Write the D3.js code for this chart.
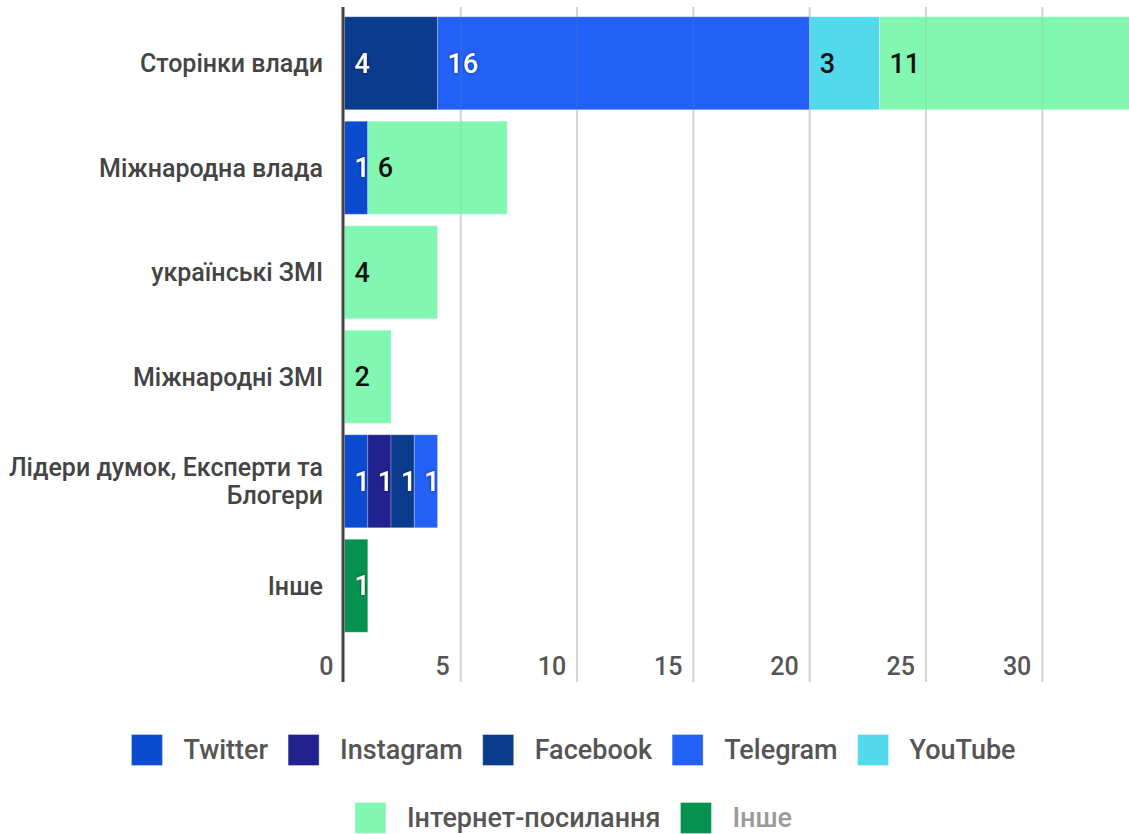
<!DOCTYPE html>
<html>
<head>
<meta charset="utf-8">
<script src="https://cdn.jsdelivr.net/npm/d3@7"></script>
<style>
  html, body { margin: 0; padding: 0; background: #fff; }
  svg { display: block; font-family: Roboto, "Noto Sans", sans-serif; }
</style>
</head>
<body>
<svg id="chart" width="1129" height="834"></svg>
<script>
// Source categories (rows), top to bottom
const categories = [
  "Сторінки влади",
  "Міжнародна влада",
  "українські ЗМІ",
  "Міжнародні ЗМІ",
  "Лідери думок, Експерти та Блогери",
  "Інше"
];

// Channel series, in stacking order
const seriesNames = ["Twitter", "Instagram", "Facebook", "Telegram", "YouTube", "Інтернет-посилання", "Інше"];

// Values per series, one entry per category
const twitter   = [0, 1, 0, 0, 1, 0];
const instagram = [0, 0, 0, 0, 1, 0];
const facebook  = [4, 0, 0, 0, 1, 0];
const telegram  = [16, 0, 0, 0, 1, 0];
const youtube   = [3, 0, 0, 0, 0, 0];
const internet  = [11, 6, 4, 2, 0, 0];
const other     = [0, 0, 0, 0, 0, 1];

const xTicks = [0, 5, 10, 15, 20, 25, 30];

const seriesValues = [twitter, instagram, facebook, telegram, youtube, internet, other];
const colors = ["#0a4bd0", "#22228f", "#0b3b8c", "#2360f5", "#52d9ec", "#82f7b1", "#07914f"];
const darkText = [false, false, false, false, true, true, false];

const svg = d3.select("#chart");

const defs = svg.append("defs");
const glow = defs.append("filter").attr("id", "glow")
  .attr("x", "-30%").attr("y", "-30%").attr("width", "160%").attr("height", "160%");
glow.append("feDropShadow").attr("dx", 0).attr("dy", 0)
  .attr("stdDeviation", 1.6).attr("flood-color", "#000").attr("flood-opacity", 0.55);

// Row table built from the series arrays
const rows = categories.map((c, i) => {
  const r = { category: c };
  seriesNames.forEach((s, k) => { r[s] = seriesValues[k][i]; });
  return r;
});
const stacked = d3.stack().keys(seriesNames)(rows);

const x = d3.scaleLinear().domain([0, 35]).range([344.5, 344.5 + 35 * 23.26]);
const y = d3.scaleBand().domain(categories).range([11, 638])
  .paddingInner(0.11).paddingOuter(0.055);

const gridTop = 7, gridBottom = 682;
const gridValues = [5, 10, 15, 20, 25, 30, 35];

// Vertical gridlines beneath the bars
svg.append("g").selectAll("line")
  .data(gridValues)
  .join("line")
  .attr("x1", d => x(d)).attr("x2", d => x(d))
  .attr("y1", gridTop).attr("y2", gridBottom)
  .attr("stroke", "#dcdcdc").attr("stroke-width", 2);

// Stacked bars
const layers = svg.append("g").selectAll("g")
  .data(stacked)
  .join("g")
  .attr("fill", (d, i) => colors[i]);

layers.selectAll("rect")
  .data(d => d.filter(s => s[1] - s[0] > 0))
  .join("rect")
  .attr("x", d => x(d[0]))
  .attr("y", d => y(d.data.category))
  .attr("width", d => x(d[1]) - x(d[0]))
  .attr("height", y.bandwidth())
  .attr("stroke", "rgba(255,255,255,0.25)")
  .attr("stroke-width", 1);

// Faint gridlines showing through the bars
svg.append("g").selectAll("line")
  .data(gridValues)
  .join("line")
  .attr("x1", d => x(d)).attr("x2", d => x(d))
  .attr("y1", gridTop).attr("y2", gridBottom)
  .attr("stroke", "rgba(150,150,150,0.12)").attr("stroke-width", 2);

// Value labels inside segments
stacked.forEach((layer, i) => {
  const g = svg.append("g");
  g.selectAll("text")
    .data(layer.filter(s => s[1] - s[0] > 0))
    .join("text")
    .attr("x", d => x(d[0]) + 10)
    .attr("y", d => y(d.data.category) + y.bandwidth() / 2)
    .attr("dy", "0.35em")
    .attr("font-size", 27)
    .attr("font-weight", 500)
    .attr("fill", darkText[i] ? "#111" : "#fff")
    .attr("filter", darkText[i] ? null : "url(#glow)")
    .text(d => d[1] - d[0]);
});

// Zero axis line
svg.append("line")
  .attr("x1", 343).attr("x2", 343)
  .attr("y1", gridTop).attr("y2", gridBottom)
  .attr("stroke", "#444").attr("stroke-width", 3);

// X tick labels
svg.append("g").selectAll("text")
  .data(xTicks)
  .join("text")
  .attr("x", d => x(d) - 11)
  .attr("y", 675)
  .attr("text-anchor", "end")
  .attr("font-size", 25)
  .attr("font-weight", 500)
  .attr("fill", "#555")
  .text(d => d);

// Category labels (long ones wrap onto two lines)
const catLines = {
  "Лідери думок, Експерти та Блогери": ["Лідери думок, Експерти та", "Блогери"]
};
const catG = svg.append("g");
categories.forEach(c => {
  const lines = catLines[c] || [c];
  const cy = y(c) + y.bandwidth() / 2;
  const t = catG.append("text")
    .attr("text-anchor", "end")
    .attr("font-size", 25)
    .attr("font-weight", 500)
    .attr("fill", "#444");
  lines.forEach((ln, j) => {
    t.append("tspan")
      .attr("x", 323)
      .attr("y", cy + (j - (lines.length - 1) / 2) * 28)
      .attr("dy", "0.35em")
      .text(ln);
  });
});

// Legend, two centred rows
const legendRows = [[0, 1, 2, 3, 4], [5, 6]];
const legendY = [750, 818];
const legendCenter = 573.5;
const sw = 31, swGap = 21, itemGap = 20;
legendRows.forEach((idxs, r) => {
  const g = svg.append("g");
  const items = idxs.map(i => {
    const it = g.append("g");
    it.append("rect")
      .attr("width", sw).attr("height", sw)
      .attr("y", -sw / 2)
      .attr("fill", colors[i])
      .attr("stroke", "rgba(255,255,255,0.35)");
    const tx = it.append("text")
      .attr("x", sw + swGap)
      .attr("dy", "0.35em")
      .attr("font-size", 27)
      .attr("font-weight", 500)
      .attr("fill", i === 6 ? "#9a9a9a" : "#555")
      .text(seriesNames[i]);
    return { it, w: sw + swGap + tx.node().getComputedTextLength() };
  });
  const total = d3.sum(items, d => d.w) + itemGap * (items.length - 1);
  let cx = legendCenter - total / 2;
  items.forEach(d => {
    d.it.attr("transform", `translate(${cx},${legendY[r]})`);
    cx += d.w + itemGap;
  });
});
</script>
</body>
</html>
